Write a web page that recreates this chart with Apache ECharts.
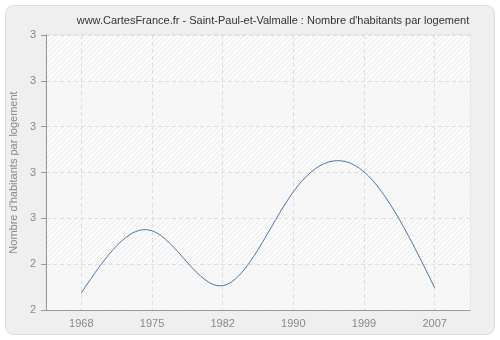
<!DOCTYPE html>
<html>
<head>
<meta charset="utf-8">
<script src="https://cdn.jsdelivr.net/npm/echarts@6/dist/echarts.min.js"></script>
<style>
html,body{margin:0;padding:0;background:#fff;}
#c{width:500px;height:340px;}
</style>
</head>
<body>
<div id="c"></div>
<script>
var titleText = "www.CartesFrance.fr - Saint-Paul-et-Valmalle : Nombre d'habitants par logement";
var yAxisName = "Nombre d'habitants par logement";
var years = ["1968", "1975", "1982", "1990", "1999", "2007"];
var values = [2.275, 2.546, 2.306, 2.716, 2.803, 2.297];
var yMin = 2.2, yMax = 3.4, yInterval = 0.2;

var FONT = 'Liberation Sans, Arial, sans-serif';

function hatch(base, line) {
  var c = document.createElement('canvas');
  c.width = 5; c.height = 5;
  var g = c.getContext('2d');
  g.fillStyle = base; g.fillRect(0, 0, 5, 5);
  g.strokeStyle = line; g.lineWidth = 1;
  g.beginPath();
  g.moveTo(-1, 6); g.lineTo(6, -1);
  g.moveTo(-1, 1); g.lineTo(1, -1);
  g.moveTo(4, 6); g.lineTo(6, 4);
  g.stroke();
  return c;
}

// natural cubic spline through pixel points (uniform x spacing), as Bezier path
function splinePath(pts) {
  var n = pts.length;
  if (n < 2) return '';
  var y = pts.map(function (p) { return p[1]; });
  var M = new Array(n).fill(0);
  if (n > 2) {
    var m = n - 2, a = [], b = [], c = [], d = [];
    for (var i = 1; i <= m; i++) {
      a.push(1); b.push(4); c.push(1);
      d.push(6 * (y[i + 1] - 2 * y[i] + y[i - 1]));
    }
    for (var k = 1; k < m; k++) {
      var w = a[k] / b[k - 1];
      b[k] -= w * c[k - 1];
      d[k] -= w * d[k - 1];
    }
    var sol = new Array(m);
    sol[m - 1] = d[m - 1] / b[m - 1];
    for (var k2 = m - 2; k2 >= 0; k2--) sol[k2] = (d[k2] - c[k2] * sol[k2 + 1]) / b[k2];
    for (var j = 0; j < m; j++) M[j + 1] = sol[j];
  }
  var s = 'M' + pts[0][0] + ' ' + pts[0][1];
  for (var i2 = 0; i2 < n - 1; i2++) {
    var x0 = pts[i2][0], x1 = pts[i2 + 1][0];
    var dy = y[i2 + 1] - y[i2];
    var d0 = dy - (2 * M[i2] + M[i2 + 1]) / 6;
    var d1 = dy + (M[i2] + 2 * M[i2 + 1]) / 6;
    var dx = x1 - x0;
    s += ' C' + (x0 + dx / 3) + ' ' + (y[i2] + d0 / 3) + ' ' +
         (x1 - dx / 3) + ' ' + (y[i2 + 1] - d1 / 3) + ' ' + x1 + ' ' + y[i2 + 1];
  }
  return s;
}

var chart = echarts.init(document.getElementById('c'), null, {renderer: 'canvas'});
chart.setOption({
  backgroundColor: '#ffffff',
  animation: false,
  graphic: [{
    type: 'rect', z: -10, silent: true,
    shape: {x: 5.5, y: 5.5, width: 489, height: 329, r: 8},
    style: {fill: '#efefef', stroke: '#dddddd', lineWidth: 1}
  }],
  title: {
    text: titleText, left: 268, top: 10, textAlign: 'center',
    textStyle: {fontFamily: FONT, fontSize: 11, fontWeight: 'normal', color: '#333'}
  },
  grid: {left: 40, right: 30, top: 35, bottom: 30, show: true, backgroundColor: '#fbfbfb', borderColor: '#dddddd', borderWidth: 1},
  xAxis: {
    type: 'category', data: years, boundaryGap: true,
    axisLine: {lineStyle: {color: '#999', width: 1}},
    axisTick: {alignWithLabel: true, length: 5, lineStyle: {color: '#999'}},
    axisLabel: {color: '#888', fontSize: 11, fontFamily: FONT, margin: 8},
    splitLine: {show: true, alignWithLabel: true, lineStyle: {color: '#dddddd', type: [4, 3]}}
  },
  yAxis: {
    type: 'value', min: yMin, max: yMax, interval: yInterval,
    name: yAxisName, nameLocation: 'middle', nameGap: 26,
    nameTextStyle: {color: '#888', fontSize: 11, fontFamily: FONT},
    axisLine: {show: true, lineStyle: {color: '#999', width: 1}},
    axisTick: {show: true, length: 5, lineStyle: {color: '#999'}},
    axisLabel: {color: '#888', fontSize: 11, fontFamily: FONT, margin: 10,
      formatter: function (v) { return String(Math.round(v)); }},
    splitLine: {show: true, lineStyle: {color: '#dddddd', type: [4, 3]}},
    splitArea: {show: true, areaStyle: {color: [
      {image: hatch('#f8f8f8', '#f1f1f1'), repeat: 'repeat'},
      {image: hatch('#fbfbfb', '#eaeaea'), repeat: 'repeat'}
    ]}}
  },
  series: [{
    type: 'custom',
    data: values.map(function (v, i) { return [i, v]; }),
    encode: {x: 0, y: 1},
    renderItem: function (params, api) {
      if (params.dataIndex !== 0) return null;
      var pts = values.map(function (v, i) { return api.coord([i, v]); });
      return {
        type: 'path',
        shape: {pathData: splinePath(pts)},
        style: {fill: null, stroke: '#4a76ab', lineWidth: 1}
      };
    }
  }]
});
</script>
</body>
</html>
